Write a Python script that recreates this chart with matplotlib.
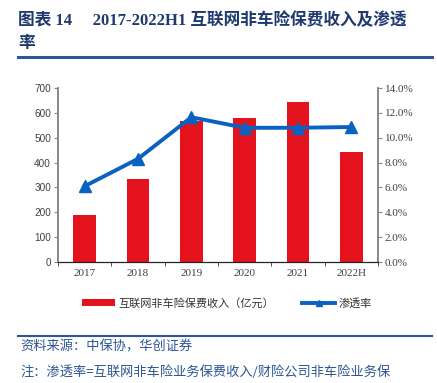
import matplotlib
matplotlib.use("Agg")
import matplotlib.pyplot as plt
from matplotlib.lines import Line2D
from matplotlib.patches import Patch
import numpy as np

plt.rcParams['font.family'] = ['Liberation Serif', 'Noto Sans CJK SC', 'DejaVu Sans']

categories = ["2017", "2018", "2019", "2020", "2021", "2022H"]
premium = [189, 332, 568, 580, 643, 444]
penetration = [6.1, 8.3, 11.65, 10.8, 10.8, 10.86]
left_ticks = [0, 100, 200, 300, 400, 500, 600, 700]
right_ticks = [0, 2, 4, 6, 8, 10, 12, 14]

W, H = 437, 383
fig = plt.figure(figsize=(W/100, H/100), dpi=100)
ax = fig.add_axes([58/W, 1-262/H, 320/W, 174/H])
ax2 = ax.twinx()

x = np.arange(len(categories))
ax.bar(x, premium, width=0.42, color='#E3121C', zorder=2)
ax.set_xlim(-0.5, len(categories)-0.5)
ax.set_ylim(0, 700)
ax.set_yticks(left_ticks)
ax.set_yticklabels([str(v) for v in left_ticks], fontsize=7.2, color='#404040',
                   family=['Liberation Sans'])
ax.set_xticks(x)
ax.set_xticklabels(categories, fontsize=8, color='#404040')
ax.set_xticks(np.arange(len(categories)+1)-0.5, minor=True)
ax.tick_params(axis='x', which='major', length=0, pad=5)
ax.tick_params(axis='x', which='minor', length=3, color='#333333', direction='out')
ax.tick_params(axis='y', length=3, color='#888888', direction='out', pad=2)

ax2.plot(x, penetration, color='#0A62C0', lw=2.8, marker='^', ms=8.5, zorder=3)
ax2.set_ylim(0, 14)
ax2.set_yticks(right_ticks)
ax2.set_yticklabels([f"{v:.1f}%" for v in right_ticks], fontsize=8, color='#404040')
ax2.tick_params(axis='y', length=3, color='#888888', direction='out', pad=2)

for a in (ax, ax2):
    a.spines['top'].set_visible(False)
    a.spines['left'].set_color('#888888')
    a.spines['right'].set_color('#888888')
    a.spines['bottom'].set_color('#222222')
    a.spines['left'].set_linewidth(1.2)
    a.spines['right'].set_linewidth(1.2)

# legend
handles = [Patch(facecolor='#E3121C', edgecolor='none'),
           Line2D([0], [0], color='#0A62C0', lw=2.8, marker='^', ms=5)]
labels = ["互联网非车险保费收入（亿元）", "渗透率"]
leg = fig.legend(handles, labels, loc='center', bbox_to_anchor=(227/W, 1-303/H), ncol=2,
                 frameon=False, handlelength=3.0, handleheight=0.6,
                 columnspacing=2.5, handletextpad=0.3,
                 prop={'family': ['Noto Sans CJK SC'], 'size': 8})
for t in leg.get_texts():
    t.set_color('#333333')

navy = '#1F3A6E'
fig.text(18/W, 1-21/H, "图表 14     2017-2022H1 互联网非车险保费收入及渗透",
         fontsize=12, fontweight='bold', color=navy, va='center', ha='left',
         family=['Liberation Serif', 'Noto Sans CJK SC'])
fig.text(18/W, 1-43/H, "率", fontsize=12, fontweight='bold', color=navy,
         va='center', ha='left', family=['Noto Sans CJK SC'])
fig.add_artist(Line2D([18/W, 432/W], [1-57/H, 1-57/H], color='#2E5597', lw=2.2))
fig.add_artist(Line2D([18/W, 432/W], [1-336/H, 1-336/H], color='#2E5597', lw=1.5))
foot = '#2C5595'
fig.text(20/W, 1-347/H, "资料来源：中保协，华创证券", fontsize=9.5, color=foot,
         va='center', ha='left', family=['Noto Sans CJK SC'], fontweight='light')
fig.text(20/W, 1-372/H, "注：渗透率=互联网非车险业务保费收入/财险公司非车险业务保",
         fontsize=9.5, color=foot, va='center', ha='left', family=['Noto Sans CJK SC'],
         fontweight='light')

fig.savefig("out.png", dpi=100)
